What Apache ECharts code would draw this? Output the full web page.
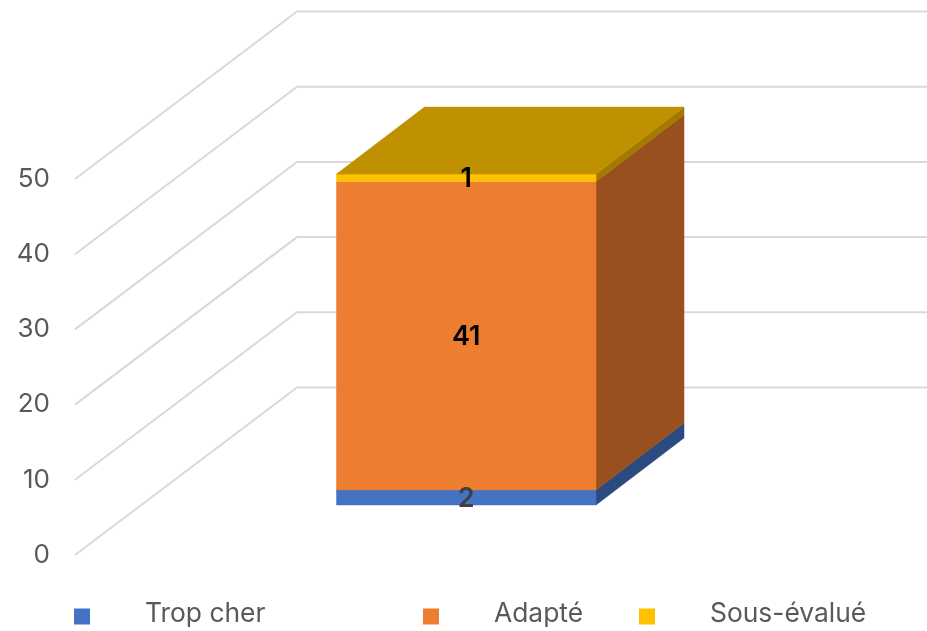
<!DOCTYPE html>
<html>
<head>
<meta charset="utf-8">
<style>html,body{margin:0;padding:0;background:#fff}#c{width:927px;height:631px}</style>
<script src="https://cdn.jsdelivr.net/npm/echarts@6/dist/echarts.min.js"></script>
</head>
<body>
<div id="c"></div>
<script>
var categories = ['Total'];
var tropCher = [2];
var adapte = [41];
var sousEvalue = [1];
var tickValues = [0, 10, 20, 30, 40, 50];
var seriesNames = ['Trop cher', 'Adapté', 'Sous-évalué'];
var seriesValues = [tropCher, adapte, sousEvalue];
var frontColors = ['#4472C4', '#ED7D31', '#FFC000'];
var sideColors = ['#2B4A80', '#9A4F1E', '#A37A00'];
var topColor = '#BF9000';
var labelColors = ['#404040', '#000000', '#000000'];

var FONT = 'Inter, "Noto Sans", sans-serif';
var WALL_DX = 222, WALL_DY = -167.5;
var BAR_W = 260, FRONT_DX = 76, FRONT_DY = -50, DEPTH_DX = 88, DEPTH_DY = -67;
var LEGEND_ICON = 'path://M0,-5L16,-5M0,0L16,0L16,16L0,16Z';

function poly(points, fill, z2) {
  return { type: 'polygon', shape: { points: points }, style: { fill: fill, stroke: fill, lineWidth: 0.5 }, z2: z2 };
}

function gridRender(params, api) {
  var v = api.value(0);
  var p = api.coord([0, v]);
  var sys = params.coordSys;
  return {
    type: 'polyline',
    shape: { points: [[sys.x, p[1]], [sys.x + WALL_DX, p[1] + WALL_DY], [sys.x + sys.width + WALL_DX, p[1] + WALL_DY]] },
    style: { fill: 'none', stroke: '#D9D9D9', lineWidth: 2 }
  };
}

function barRender(idx) {
  return function (params, api) {
    var cat = api.value(0);
    var start = 0;
    for (var i = 0; i < idx; i++) start += seriesValues[i][cat];
    var end = start + seriesValues[idx][cat];
    var a = api.coord([cat, start]);
    var b = api.coord([cat, end]);
    var x0 = a[0] - BAR_W / 2 + FRONT_DX + 0.5, x1 = x0 + BAR_W - 0.5;
    var y0 = a[1] + FRONT_DY, y1 = b[1] + FRONT_DY;
    var children = [
      poly([[x1, y0], [x1 + DEPTH_DX, y0 + DEPTH_DY], [x1 + DEPTH_DX, y1 + DEPTH_DY], [x1, y1]], sideColors[idx], 1),
      poly([[x0, y0], [x1, y0], [x1, y1], [x0, y1]], frontColors[idx], 2)
    ];
    if (idx === seriesValues.length - 1) {
      children.push(poly([[x0, y1], [x1, y1], [x1 + DEPTH_DX, y1 + DEPTH_DY], [x0 + DEPTH_DX, y1 + DEPTH_DY]], topColor, 3));
    }
    children.push({
      type: 'text', z2: 100,
      style: {
        x: (x0 + x1) / 2, y: (y0 + y1) / 2 + 1,
        text: String(seriesValues[idx][cat]),
        align: 'center', verticalAlign: 'middle',
        fill: labelColors[idx], font: '600 27px ' + FONT
      }
    });
    return { type: 'group', children: children };
  };
}

var series = [{
  type: 'custom', z: 1, silent: true, clip: false,
  data: tickValues.map(function (t) { return [t]; }),
  encode: { y: 0 },
  renderItem: gridRender
}];
seriesNames.forEach(function (name, i) {
  series.push({
    type: 'custom', name: name, z: 2, silent: true, clip: false,
    itemStyle: { color: frontColors[i] },
    data: categories.map(function (c, k) { return [k, seriesValues[i][k]]; }),
    encode: { x: 0, y: 1 },
    renderItem: barRender(i)
  });
});

var legendLefts = [74, 423, 639];
var legends = seriesNames.map(function (name, i) {
  return {
    data: [name], left: legendLefts[i], top: 601, padding: 0,
    icon: LEGEND_ICON, itemWidth: 16, itemHeight: 21, selectedMode: false,
    textStyle: { color: '#595959', fontSize: 26.4, fontFamily: FONT, padding: [0, 0, 0, 50] }
  };
});

var chart = echarts.init(document.getElementById('c'), null, { renderer: 'canvas' });
chart.setOption({
  animation: false,
  backgroundColor: '#fff',
  grid: { left: 75, top: 179, width: 630, height: 376 },
  xAxis: { type: 'category', data: categories, show: false },
  yAxis: {
    type: 'value', min: 0, max: 50, interval: 10,
    axisLine: { show: false }, axisTick: { show: false }, splitLine: { show: false },
    axisLabel: { color: '#595959', fontSize: 26, fontFamily: FONT, margin: 25, padding: [0, 0, 4, 0] }
  },
  legend: legends,
  series: series
});
</script>
</body>
</html>
